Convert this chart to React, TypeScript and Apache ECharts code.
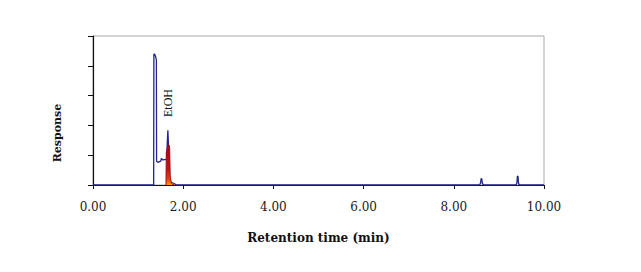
import React, { useEffect, useRef } from "react";
import * as echarts from "echarts";

// Blue chromatogram trace: [retention time (min), response]
const blueTrace: [number, number][] = [
  [0, 0], [1.345, 0], [1.35, 4.4], [1.37, 4.38], [1.39, 4.3], [1.405, 4.2],
  [1.41, 0.8], [1.44, 0.76], [1.5, 0.8], [1.52, 0.9], [1.54, 0.84], [1.63, 0.86],
  [1.66, 1.84], [1.675, 1.3], [1.69, 0.2], [1.72, 0.1], [1.8, 0.05], [1.85, 0],
  [8.57, 0], [8.595, 0.07], [8.605, 0.22], [8.62, 0.2], [8.635, 0.05], [8.66, 0],
  [9.38, 0], [9.4, 0.08], [9.41, 0.3], [9.425, 0.28], [9.435, 0.05], [9.46, 0], [10, 0],
];

// Red (EtOH) filled trace
const redTrace: [number, number][] = [
  [1.618, 0], [1.625, 1.1], [1.65, 1.25], [1.66, 1.36], [1.69, 1.33], [1.7, 1.25],
  [1.712, 0.3], [1.74, 0.05], [1.8, 0],
];

const xTicks = [0, 2, 4, 6, 8, 10];
const peakLabel = "EtOH";
const xName = "Retention time (min)";
const yName = "Response";

export default function App() {
  const ref = useRef<HTMLDivElement>(null);
  useEffect(() => {
    if (!ref.current) return;
    const chart = echarts.init(ref.current, null, { renderer: "svg" });
    chart.setOption({
      animation: false,
      backgroundColor: "#ffffff",
      grid: {
        left: 93, top: 36, width: 451, height: 149,
        show: true, borderColor: "#a8a8a8", borderWidth: 1,
      },
      xAxis: {
        type: "value", min: 0, max: 10, interval: 2,
        name: xName, nameLocation: "middle", nameGap: 47,
        nameTextStyle: { fontFamily: "DejaVu Serif", fontWeight: "bold", fontSize: 12, color: "#111" },
        axisLine: { lineStyle: { color: "#111", width: 1.2 } },
        axisTick: { show: true, length: 4, lineStyle: { color: "#111" } },
        splitLine: { show: false },
        axisLabel: {
          margin: 16, fontFamily: "DejaVu Serif", fontSize: 12, color: "#1a1a1a",
          formatter: (v: number) => (xTicks.includes(v) ? v.toFixed(2) : ""),
        },
      },
      yAxis: {
        type: "value", min: 0, max: 5, interval: 1,
        axisLine: { show: true, lineStyle: { color: "#111", width: 1.2 } },
        axisTick: { show: true, length: 5, lineStyle: { color: "#111" } },
        axisLabel: { show: false },
        splitLine: { show: false },
      },
      graphic: [
        {
          type: "text", x: 57, y: 133, rotation: Math.PI / 2,
          style: {
            text: yName, fontFamily: "DejaVu Serif", fontWeight: "bold", fontSize: 11,
            fill: "#111", align: "center", verticalAlign: "middle",
          },
        },
        {
          type: "text", x: 168, y: 103, rotation: Math.PI / 2,
          style: {
            text: peakLabel, fontFamily: "Liberation Serif", fontSize: 12,
            fill: "#111", align: "center", verticalAlign: "middle",
          },
        },
      ],
      series: [
        {
          type: "line", data: blueTrace, showSymbol: false, z: 2,
          lineStyle: { color: "#24248f", width: 1.3 },
        },
        {
          type: "line", data: redTrace, showSymbol: false, z: 3,
          lineStyle: { color: "#a80c14", width: 1 },
          areaStyle: {
            opacity: 1,
            color: new echarts.graphic.LinearGradient(0, 0, 0, 1, [
              { offset: 0, color: "#9a0a18" },
              { offset: 0.6, color: "#c01418" },
              { offset: 0.85, color: "#e04010" },
              { offset: 1, color: "#ff9a00" },
            ]),
          },
        },
      ],
    });
    return () => chart.dispose();
  }, []);
  return (
    <div
      ref={ref}
      style={{ position: "absolute", left: 0, top: 0, width: 641, height: 272 }}
    />
  );
}
